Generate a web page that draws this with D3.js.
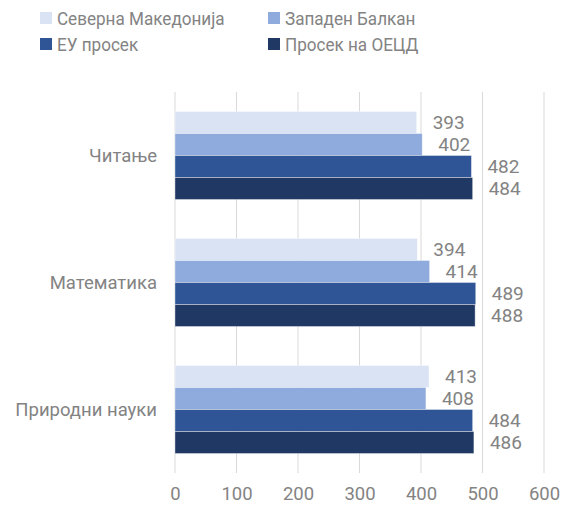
<!DOCTYPE html>
<html><head><meta charset="utf-8">
<script src="https://cdn.jsdelivr.net/npm/d3@7"></script>
<style>body{margin:0;background:#fff;} svg{display:block;font-family:Roboto, "Noto Sans", sans-serif;}</style>
</head><body>
<svg id="c" width="572" height="506"></svg>
<script>
const categories = ["Читање", "Математика", "Природни науки"];
const seriesNames = ["Северна Македонија", "Западен Балкан", "ЕУ просек", "Просек на ОЕЦД"];
const seriesColors = ["#dae3f3", "#8faadc", "#2f5597", "#203864"];
const northMacedonia = [393, 394, 413];
const westernBalkans = [402, 414, 408];
const euAverage = [482, 489, 484];
const oecdAverage = [484, 488, 486];
const xTicks = [0, 100, 200, 300, 400, 500, 600];

const seriesValues = [northMacedonia, westernBalkans, euAverage, oecdAverage];
const svg = d3.select("#c");
const x = d3.scaleLinear().domain([0, 600]).range([175, 544]);
const y = d3.scaleBand().domain(categories).range([92, 473]).paddingInner(0.307).paddingOuter(0.1535);
const ys = d3.scaleBand().domain(d3.range(4)).range([0, y.bandwidth()]);
const textColor = "#838383";

// gridlines
svg.append("g").selectAll("line").data(xTicks).join("line")
  .attr("x1", d => x(d)).attr("x2", d => x(d))
  .attr("y1", 92).attr("y2", 473)
  .attr("stroke", "#d9d9d9").attr("stroke-width", 1);

// axis labels
const ax = svg.append("g").attr("transform", "translate(0,473)")
  .call(d3.axisBottom(x).tickValues(xTicks).tickSize(0).tickPadding(14));
ax.select(".domain").remove();
ax.selectAll("text").attr("font-size", 18.5).attr("fill", textColor).attr("font-family", "Roboto");

// bars
const rows = [];
categories.forEach((c, ci) => seriesValues.forEach((arr, si) => rows.push({c, si, v: arr[ci]})));
svg.append("g").selectAll("rect").data(rows).join("rect")
  .attr("x", x(0))
  .attr("y", d => y(d.c) + ys(d.si))
  .attr("width", d => x(d.v) - x(0))
  .attr("height", ys.bandwidth())
  .attr("fill", d => seriesColors[d.si])
  .attr("stroke", "#ffffff").attr("stroke-opacity", 0.5).attr("stroke-width", 0.75);

// data labels
svg.append("g").selectAll("text").data(rows).join("text")
  .attr("x", d => x(d.v) + 16)
  .attr("y", d => y(d.c) + ys(d.si) + ys.bandwidth() / 2)
  .attr("dy", "0.36em")
  .attr("font-size", 19).attr("fill", textColor)
  .text(d => d.v);

// category labels
svg.append("g").selectAll("text").data(categories).join("text")
  .attr("x", 157)
  .attr("y", d => y(d) + y.bandwidth() / 2)
  .attr("dy", "0.36em").attr("text-anchor", "end")
  .attr("font-size", 18.5).attr("fill", textColor)
  .text(d => d);

// legend
const legPos = [[40, 18], [268, 18], [40, 44], [268, 44]];
const leg = svg.append("g").selectAll("g").data(seriesNames).join("g")
  .attr("transform", (d, i) => `translate(${legPos[i][0]},${legPos[i][1]})`);
leg.append("rect").attr("x", 0).attr("y", -6).attr("width", 12).attr("height", 12)
  .attr("fill", (d, i) => seriesColors[i]);
leg.append("text").attr("transform", "translate(17,0) scale(0.9,1)").attr("dy", "0.36em")
  .attr("font-size", 19).attr("fill", textColor).text(d => d);
</script>
</body></html>
